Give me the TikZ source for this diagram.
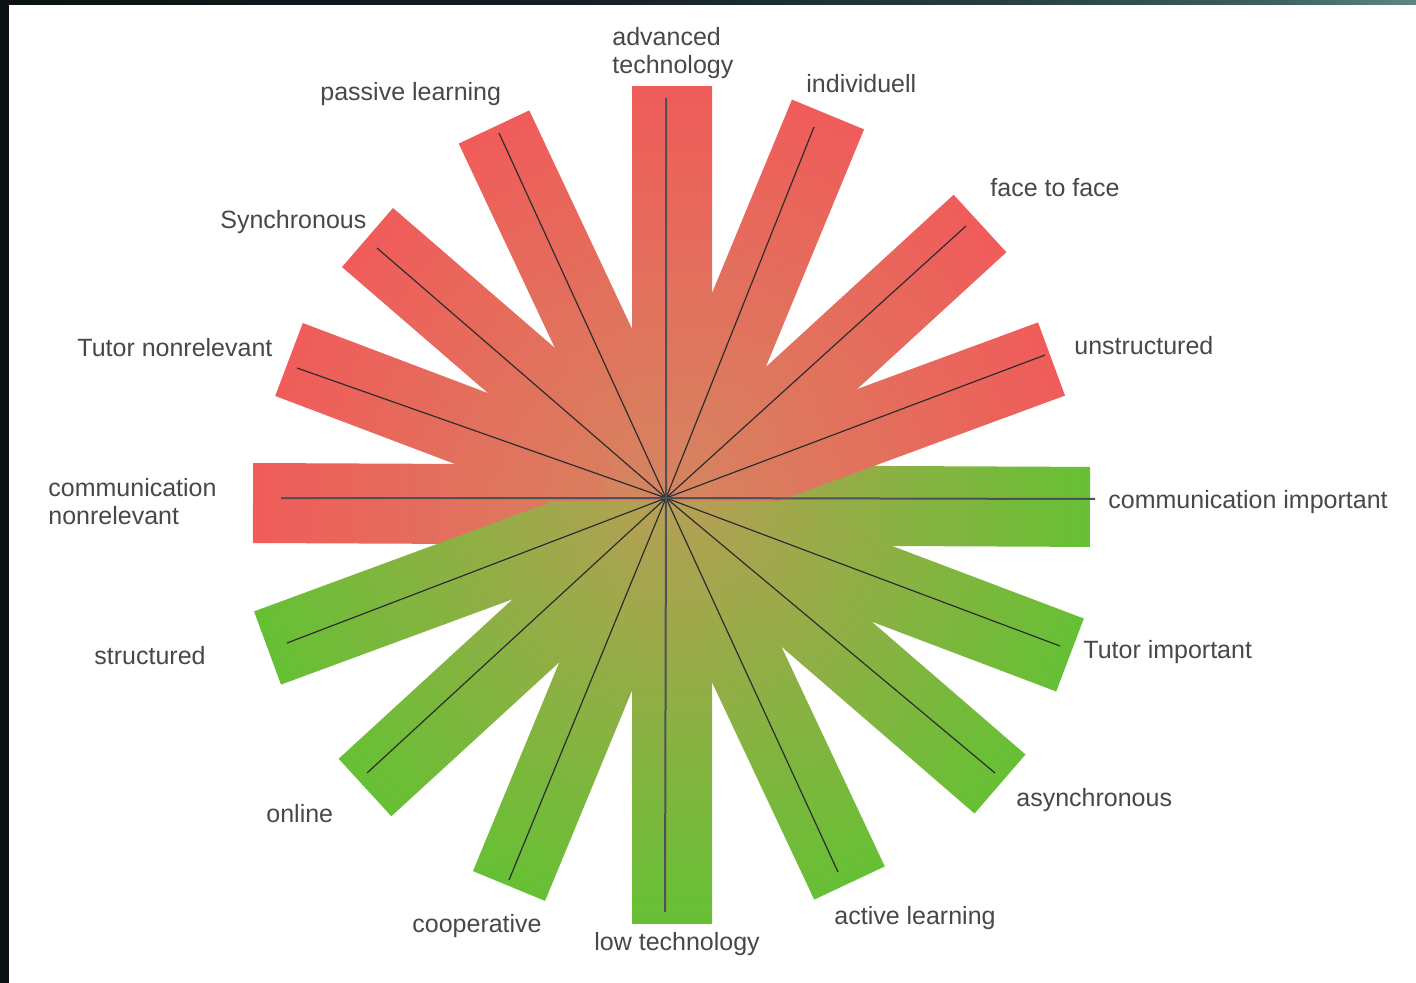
\documentclass[tikz,border=0pt]{standalone}
\usepackage{fontspec}
\setmainfont{Liberation Sans}
\pgfdeclarehorizontalshading{barshade}{100bp}{rgb(0bp)=(0.941,0.361,0.353); rgb(25bp)=(0.941,0.361,0.353); rgb(49.8bp)=(0.831,0.525,0.376); rgb(50.2bp)=(0.706,0.627,0.329); rgb(75bp)=(0.4,0.753,0.204); rgb(100bp)=(0.4,0.753,0.204)}
\pgfdeclarehorizontalshading{redhalf}{100bp}{rgb(0bp)=(0.941,0.361,0.353); rgb(25bp)=(0.941,0.361,0.353); rgb(70.14bp)=(0.831,0.525,0.376); rgb(100bp)=(0.831,0.525,0.376)}
\pgfdeclarehorizontalshading{greenhalf}{100bp}{rgb(0bp)=(0.4,0.753,0.204); rgb(25bp)=(0.4,0.753,0.204); rgb(70.14bp)=(0.706,0.627,0.329); rgb(100bp)=(0.706,0.627,0.329)}
\pgfdeclarehorizontalshading{topbarshade}{100bp}{rgb(0bp)=(0.047,0.07,0.078); rgb(25bp)=(0.047,0.07,0.078); rgb(45bp)=(0.075,0.12,0.13); rgb(60bp)=(0.15,0.24,0.25); rgb(70bp)=(0.24,0.38,0.39); rgb(75bp)=(0.36,0.53,0.53); rgb(100bp)=(0.36,0.53,0.53)}
\definecolor{labelgray}{RGB}{72,72,72}
\definecolor{framedark}{RGB}{10,18,19}
\definecolor{hvcol}{RGB}{80,80,88}
\definecolor{dcol}{RGB}{45,45,45}
\tikzset{
  lbl/.style={anchor=base west, inner sep=0pt, text=labelgray, font=\fontsize{12.5pt}{14pt}\selectfont},
  lbltwo/.style={anchor=west, inner sep=0pt, align=left, text=labelgray, font=\fontsize{12.5pt}{14pt}\selectfont},
  hvline/.style={line width=1pt, draw=hvcol},
  dline/.style={line width=0.6pt, draw=dcol},
}
% full bar: #1 red end, #2 angle, #3 length, #4 half width
\newcommand{\gradbar}[4]{\shade[shading=barshade, transform canvas={shift={(#1)}, rotate=#2}] (0,-#4) rectangle (#3,#4);}
% half bar from a tip towards the centre: #1 tip, #2 angle, #3 half width, #4 shading
\newcommand{\halfbar}[4]{\shade[shading=#4, transform canvas={shift={(#1)}, rotate=#2}] (0,-#3) rectangle (463,#3);}
\begin{document}
\begin{tikzpicture}[x=0.5pt,y=-0.5pt]
\useasboundingbox (0,0) rectangle (1416,983);
\fill[white] (0,0) rectangle (1416,983);
\shade[shading=topbarshade] (0,0) rectangle (1416,5);
\fill[framedark] (0,0) rectangle (9,983);

% bar tips
\coordinate (bCnr) at (253,503);
\coordinate (bTnr) at (289,359.5);
\coordinate (bSyn) at (367.5,237.5);
\coordinate (bPas) at (494,127);
\coordinate (bAdv) at (672,87);
\coordinate (bInd) at (828,114.5);
\coordinate (bFac) at (980,223.5);
\coordinate (bUns) at (1051.5,359);
\coordinate (bTim) at (1070,655);
\coordinate (bAsy) at (1000,784);
\coordinate (bAct) at (849.5,883);
\coordinate (bLow) at (672,923);
\coordinate (bCoo) at (509,886);
\coordinate (bOnl) at (365,787.5);
\coordinate (bStr) at (267.5,648);

% horizontal bar (communication)
\gradbar{bCnr}{-0.27}{837}{40}

% upper (red) half bars
\begin{scope}
\clip (0,0) rectangle (1416,501);
\halfbar{bTnr}{-20.73}{39}{redhalf}
\halfbar{bSyn}{-40.83}{39}{redhalf}
\halfbar{bPas}{-64.81}{39}{redhalf}
\halfbar{bInd}{-112.46}{39}{redhalf}
\halfbar{bFac}{-137.48}{39}{redhalf}
\halfbar{bUns}{-159.77}{39}{redhalf}
\halfbar{bAdv}{-90}{40}{redhalf}
\end{scope}

% lower (green) half bars
\begin{scope}
\clip (0,501) rectangle (1416,983);
\halfbar{bTim}{159.27}{39}{greenhalf}
\halfbar{bAsy}{139.17}{39}{greenhalf}
\halfbar{bAct}{115.19}{39}{greenhalf}
\halfbar{bCoo}{67.54}{39}{greenhalf}
\halfbar{bOnl}{42.52}{39}{greenhalf}
\halfbar{bStr}{20.23}{39}{greenhalf}
\halfbar{bLow}{90}{40}{greenhalf}
\end{scope}

% axis lines
\coordinate (C) at (666,498);
\coordinate (lAdv) at (666,98);
\coordinate (lLow) at (665,912);
\coordinate (lInd) at (814,127);
\coordinate (lCoo) at (509,880);
\coordinate (lFac) at (966,226);
\coordinate (lOnl) at (367,773);
\coordinate (lUns) at (1045,355);
\coordinate (lStr) at (287,643);
\coordinate (lCnr) at (281,498);
\coordinate (lCim) at (1095,499);
\coordinate (lTnr) at (297,368);
\coordinate (lTim) at (1060,646);
\coordinate (lSyn) at (377,248);
\coordinate (lAsy) at (995,773);
\coordinate (lPas) at (499,133);
\coordinate (lAct) at (838,872);

\draw[dline] (lInd) -- (C) -- (lCoo);
\draw[dline] (lFac) -- (C) -- (lOnl);
\draw[dline] (lUns) -- (C) -- (lStr);
\draw[dline] (lTnr) -- (C) -- (lTim);
\draw[dline] (lSyn) -- (C) -- (lAsy);
\draw[dline] (lPas) -- (C) -- (lAct);
\draw[hvline] (lCnr) -- (C) -- (lCim);
\draw[hvline] (lAdv) -- (C) -- (lLow);

% labels
\node[lbltwo] (tAdv) at (612,53.2) {advanced\\technology};
\node[lbl] (tPas) at (320,101) {passive learning};
\node[lbl] (tInd) at (806,92.5) {individuell};
\node[lbl] (tFac) at (990,196.5) {face to face};
\node[lbl] (tSyn) at (220,228.5) {Synchronous};
\node[lbl] (tUns) at (1074,354.5) {unstructured};
\node[lbl] (tTnr) at (77,356.5) {Tutor nonrelevant};
\node[lbltwo] (tCnr) at (48,502) {communication\\nonrelevant};
\node[lbl] (tCim) at (1108,508.5) {communication important};
\node[lbl] (tStr) at (94,664.5) {structured};
\node[lbl] (tTim) at (1083,658.5) {Tutor important};
\node[lbl] (tOnl) at (266,822.5) {online};
\node[lbl] (tAsy) at (1016,806.5) {asynchronous};
\node[lbl] (tCoo) at (412,932.5) {cooperative};
\node[lbl] (tAct) at (834,924.5) {active learning};
\node[lbl] (tLow) at (594,950.5) {low technology};
\end{tikzpicture}
\end{document}
